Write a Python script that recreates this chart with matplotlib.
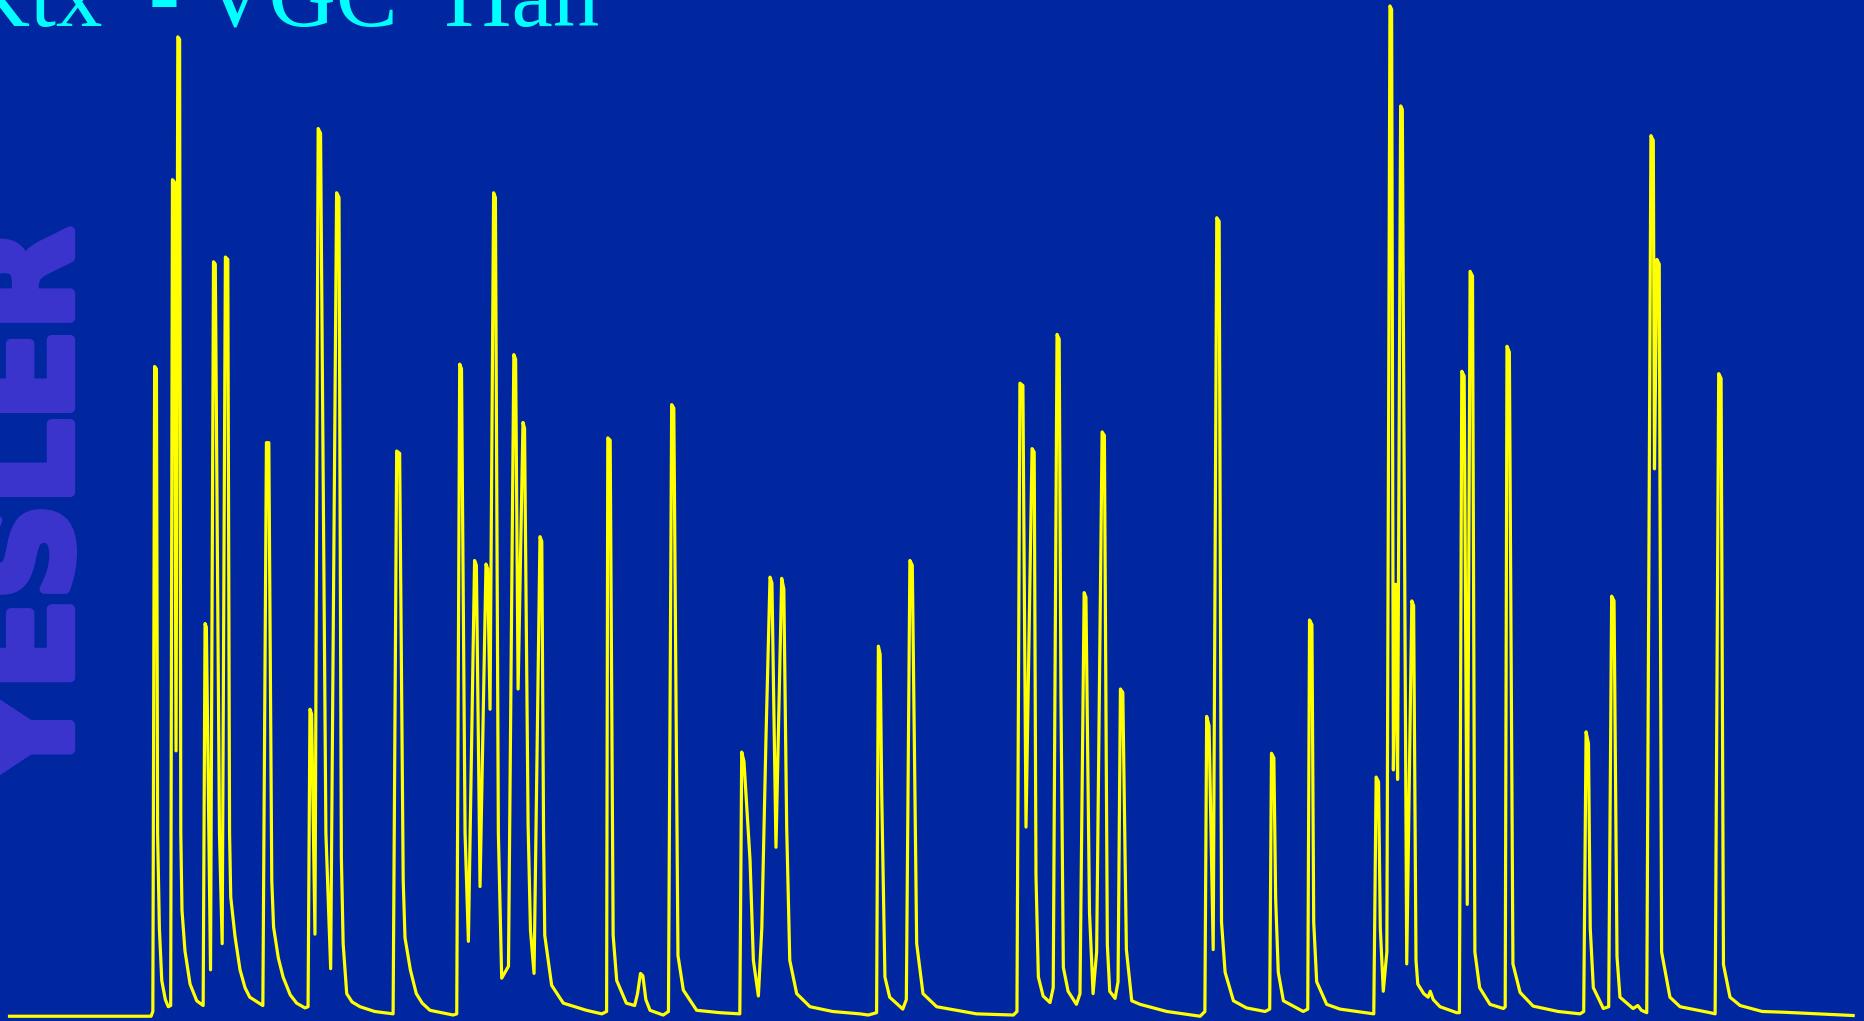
#!/usr/bin/env python3
"""Spike trace on a slide-style blue background (yellow trace, cyan header, watermark)."""

import matplotlib

matplotlib.use("Agg")
import matplotlib.patheffects as pe
import matplotlib.pyplot as plt

# time (arbitrary units) and signal (arbitrary units above resting baseline),
# read off the reference trace vertex by vertex
t = [
    8, 127, 128.5,
    130, 131.5, 132.5, 134, 136, 139, 141.5,
    143.5, 145, 146.5, 148, 149.5, 151, 152, 153, 155.5, 159.8, 165.4, 170.8,
    172.4, 173.5, 177, 179.5, 181, 184.5, 186.8, 189.5, 191.5, 193, 194, 197.6, 201.8, 206, 210, 221,
    224, 226, 228.5, 230, 234, 238, 244, 249.4, 256.4,
    259, 260.6, 262, 264.8, 267.5, 269.5, 274, 278, 283, 285, 287, 288.5, 291.5, 296, 302.7, 315, 330.5,
    333.5, 336, 339, 340.5, 345, 350, 355, 361.5, 381,
    384, 386.5, 388, 391, 393.8, 399, 400.5, 403.6, 408.6, 410, 412, 415, 416.5, 419, 421.8, 427.5,
    432, 433.5, 435.6, 439.7, 441, 444, 446, 449, 454, 455.5, 457, 458, 463.8, 473.6, 493, 506,
    510, 511, 513, 515.5, 518.5, 526.6, 533.6, 536, 538.5, 540.5, 543, 546.5, 557.6,
    562, 564.7, 566.5, 570, 574.5, 585.7, 605, 622,
    623.6, 625.5, 630.6, 633.4, 637.6, 640.5, 644, 647.4, 649, 652.4, 657.2, 659, 661.4, 664, 669.8,
    681, 700, 723, 730,
    737, 738.5, 740, 741.3, 744, 748, 759, 762, 765, 767, 770.7, 776, 787.5, 821, 852,
    855, 857.5, 860, 862.6, 867.7, 869.5, 871, 873, 877, 882.8, 885.5, 888.7, 890.5, 892, 894, 898,
    905, 908, 911.5, 913, 916, 919, 922, 926.6, 928.5, 931, 933, 937.5, 940, 942, 944, 947, 951.5,
    958.5, 981, 1009,
    1013, 1014.5, 1016.5, 1020, 1023, 1025, 1027, 1030, 1037, 1048, 1063.6,
    1067.5, 1069, 1071, 1072.5, 1074.7, 1079, 1095.7,
    1099.5, 1101, 1103, 1104.5, 1107, 1115.4, 1126.6, 1155,
    1157, 1159, 1160.5, 1163, 1166, 1168.6, 1170, 1171.5, 1173.5, 1175, 1177.6, 1179, 1182.7, 1187,
    1188.5, 1190.5, 1192, 1197, 1200.7, 1202.5, 1205, 1210.7, 1224.7,
    1227, 1229, 1231, 1233.6, 1236, 1238, 1240, 1244, 1252.7, 1264,
    1265.5, 1267, 1269, 1272, 1278, 1289, 1310, 1328.4,
    1331.5, 1333.5, 1335.5, 1337, 1339.6, 1348, 1352.5, 1355, 1357, 1359.5, 1362, 1373, 1377, 1380,
    1384.5,
    1388, 1390, 1391, 1393, 1395, 1397, 1404, 1412.5, 1437.7, 1442,
    1445, 1447, 1449, 1454.5, 1463, 1481.6, 1499, 1558,
]
v = [
    0, 0, 4,
    546, 544, 154, 74, 30, 14, 8,
    9, 703, 701, 223, 823, 821, 154, 89, 55, 27, 13, 9,
    330, 327, 39, 634, 632, 154, 61, 638, 636, 154, 100, 67, 39, 24, 16, 9,
    482, 482, 114, 75, 49, 33, 18, 11, 7,
    8, 258, 254, 69, 746, 742, 154, 40, 692, 688, 134, 61, 19, 12, 8, 4, 2,
    475, 473, 114, 66, 39, 19, 11, 5, 1,
    2, 548, 544, 154, 63, 383, 379, 109, 380, 376, 258, 692, 688, 154, 32, 42,
    556, 552, 275, 499, 494, 161, 72, 36, 403, 399, 154, 68, 26, 11, 5, 2,
    4, 486, 484, 68, 30, 11, 9, 19, 36, 34, 14, 5, 1,
    4, 514, 511, 51, 22, 5, 3, 2,
    222, 214, 131, 47, 17, 74, 234, 369, 364, 142, 368, 359, 159, 47, 19,
    8, 4, 2, 1,
    3, 311, 304, 187, 33, 16, 6, 14, 383, 379, 61, 19, 8, 2, 1,
    4, 532, 530, 159, 477, 474, 118, 33, 17, 11.5, 24, 573, 569, 269, 41, 21,
    10, 19, 356, 352, 87, 19, 54, 491, 488, 60, 21, 15, 29, 275, 272, 56, 13,
    10, 4, 0,
    4, 252, 244, 56, 671, 668, 79, 37, 13, 7, 4,
    6, 221, 217, 99, 37, 13, 4,
    6, 333, 329, 79, 29, 10, 6, 2,
    201, 197, 74, 21, 54, 849, 846, 207, 363, 199, 765, 762, 44, 349,
    345, 47, 27, 19, 16, 21, 14, 8, 3,
    3, 542, 538, 94, 626, 622, 54, 24, 10, 6.5,
    8, 563, 558, 44, 20, 8.5, 4, 2,
    4, 239, 229, 74, 24, 6.5, 8, 353, 349, 50, 16, 6.5, 9, 5,
    3,
    740, 736, 460, 636, 632, 54, 16, 8, 3, 2,
    540, 536, 43.5, 16, 9, 4, 3.4, 0.6,
]

HEADER = "Ktx  - VGC  Han"
WATERMARK = "YESLER"

BG = "#0026A0"
TRACE = "#FFFF00"
HEADER_COLOR = "#00FFFF"
MARK_COLOR = "#3A33CC"


def main() -> None:
    fig = plt.figure(figsize=(18.65, 10.21), dpi=100, facecolor=BG)
    ax = fig.add_axes([0, 0, 1, 1], facecolor=BG)

    # watermark sits under the trace, rotated and cut at the left edge
    mark = fig.text(
        0.0377, 0.2311, WATERMARK,
        rotation=90, rotation_mode="anchor", ha="left", va="baseline",
        fontsize=95, fontweight="bold", family="DejaVu Sans",
        color=MARK_COLOR, zorder=0,
    )
    # heavier strokes than DejaVu Bold gives on its own
    mark.set_path_effects([pe.withStroke(linewidth=7, foreground=MARK_COLOR)])

    ax.plot(t, v, color=TRACE, lw=2.3, zorder=3)
    ax.set_xlim(0, 1568)
    ax.set_ylim(-4, 854)
    ax.axis("off")

    # header runs off the top and left edges of the slide
    fig.text(
        -0.0198, 0.9736, HEADER,
        ha="left", va="baseline", fontsize=67,
        family="Liberation Serif", color=HEADER_COLOR, zorder=5,
    )

    fig.savefig("out.png", dpi=100, facecolor=BG)
    plt.close(fig)


if __name__ == "__main__":
    main()
